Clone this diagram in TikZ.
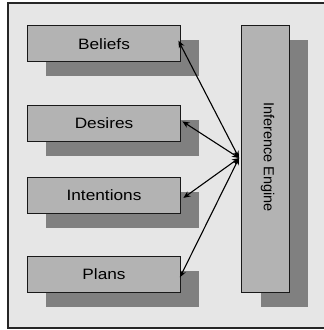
\documentclass[tikz,border=0pt]{standalone}
\usepackage{fontspec}
\setmainfont{Liberation Sans}
\usetikzlibrary{shadows,arrows.meta}
\definecolor{bgc}{HTML}{E6E6E6}
\definecolor{boxc}{HTML}{B3B3B3}
\definecolor{shc}{HTML}{808080}
\newcommand{\wlab}[1]{\scalebox{1.15}[1]{\fontsize{15}{17}\selectfont #1}}
\begin{document}
\begin{tikzpicture}[x=1pt,y=-1pt,
  frame/.style={draw=black!85,line width=1.3pt,fill=bgc},
  kbox/.style={draw=black!90,line width=1.3pt,fill=boxc,inner sep=0pt,
    minimum width=152.6pt,minimum height=36pt,
    drop shadow={shadow xshift=18.5pt,shadow yshift=-14.5pt,fill=shc,opacity=1}},
  ebox/.style={draw=black!90,line width=1.3pt,fill=boxc,inner sep=0pt,
    minimum width=47.6pt,minimum height=266.6pt,
    drop shadow={shadow xshift=19pt,shadow yshift=-14.5pt,fill=shc,opacity=1}},
  link/.style={line width=1.1pt,{Stealth[length=7pt,width=6pt]}-{Stealth[length=7pt,width=6pt]}}
]
\useasboundingbox (0,0) rectangle (324,330);
\begin{scope}
\clip (0,0) rectangle (324,330);
\draw[frame] (8,3) rectangle (327,328);
\end{scope}
\node[kbox] (b) at (104,43.7) {\wlab{Beliefs}};
\node[kbox] (d) at (104,123.2) {\wlab{Desires}};
\node[kbox] (i) at (104,195.3) {\wlab{Intentions}};
\node[kbox] (p) at (104,274.5) {\wlab{Plans}};
\node[ebox] (e) at (265.5,159) {};
\node[rotate=-90,font=\fontsize{14.5}{16}\selectfont] (et) at (267.5,157) {Inference Engine};
\coordinate (hub) at ([xshift=-2pt,yshift=1pt]e.west);
\draw[link] (hub) -- ([xshift=-2.5pt,yshift=3pt]b.east);
\draw[link] (hub) -- ([xshift=1.5pt,yshift=1.8pt]d.east);
\draw[link] (hub) -- ([xshift=2.5pt,yshift=-2.6pt]i.east);
\draw[link] (hub) -- ([xshift=-1pt,yshift=-2.8pt]p.east);
\end{tikzpicture}
\end{document}
